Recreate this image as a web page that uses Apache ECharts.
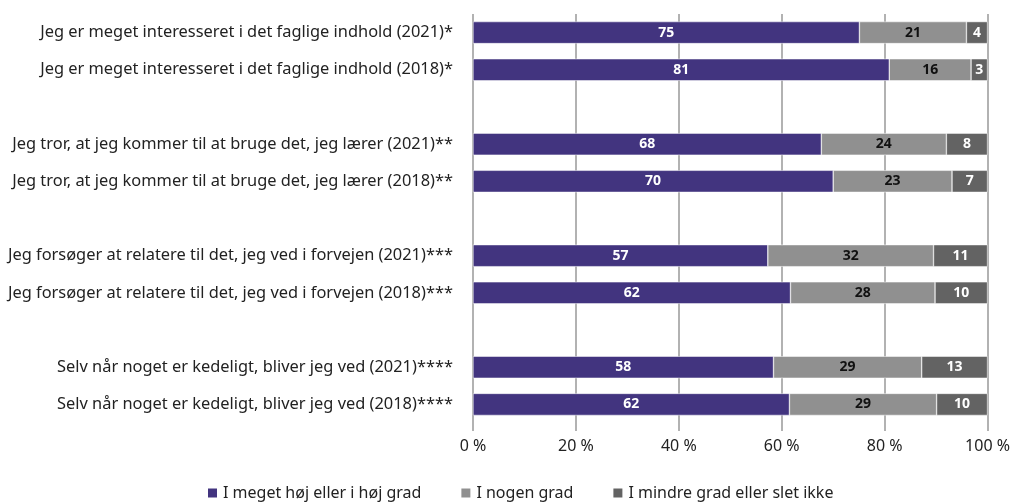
<!DOCTYPE html>
<html>
<head>
<meta charset="utf-8">
<script src="https://cdn.jsdelivr.net/npm/echarts@6/dist/echarts.min.js"></script>
<style>
  html, body { margin: 0; padding: 0; background: #fff; }
  #chart { width: 1013px; height: 503px; }
</style>
</head>
<body>
<div id="chart"></div>
<script>
// kategorier (tomme strenge giver luft mellem grupperne)
const categories = [
  "Jeg er meget interesseret i det faglige indhold (2021)*",
  "Jeg er meget interesseret i det faglige indhold (2018)*",
  "",
  "Jeg tror, at jeg kommer til at bruge det, jeg lærer (2021)**",
  "Jeg tror, at jeg kommer til at bruge det, jeg lærer (2018)**",
  "",
  "Jeg forsøger at relatere til det, jeg ved i forvejen (2021)***",
  "Jeg forsøger at relatere til det, jeg ved i forvejen (2018)***",
  "",
  "Selv når noget er kedeligt, bliver jeg ved (2021)****",
  "Selv når noget er kedeligt, bliver jeg ved (2018)****"
];
const seriesNames = ["I meget høj eller i høj grad", "I nogen grad", "I mindre grad eller slet ikke"];
// procenter aflæst fra bjælkerne (etiketter vises afrundet)
const highValues = [75.1, 80.9, null, 67.7, 70.0, null, 57.3, 61.7, null, 58.4, 61.5];
const someValues = [20.8, 15.9, null, 24.3, 23.1, null, 32.2, 28.1, null, 28.8, 28.6];
const lowValues = [4.1, 3.2, null, 8.0, 6.9, null, 10.5, 10.2, null, 12.8, 9.9];
const tickValues = [0, 20, 40, 60, 80, 100];

const colors = ["#42347f", "#909090", "#636363"];
const labelColors = ["#fff", "#111", "#fff"];
const font = "'Source Sans Pro', 'Noto Sans', sans-serif";

const chart = echarts.init(document.getElementById("chart"));

function makeSeries(name, data, i) {
  return {
    name: name,
    type: "bar",
    stack: "total",
    barWidth: 22,
    data: data,
    itemStyle: { color: colors[i], borderColor: "#fff", borderWidth: 0.5 },
    label: {
      show: true,
      position: "inside",
      color: labelColors[i],
      fontWeight: "bold",
      fontSize: 14,
      fontFamily: font,
      formatter: function (p) { return Math.round(p.value); }
    }
  };
}

chart.setOption({
  animation: false,
  color: colors,
  grid: { left: 473, right: 25, top: 14, bottom: 80, containLabel: false },
  legend: {
    top: 480,
    left: 201,
    itemWidth: 11,
    itemHeight: 11,
    itemGap: 38,
    icon: "rect",
    textStyle: { fontSize: 16, color: "#222", fontFamily: font },
    data: seriesNames
  },
  xAxis: {
    type: "value",
    min: 0,
    max: 100,
    interval: 20,
    axisLine: { show: false },
    axisTick: { show: true, length: 8, lineStyle: { color: "#999", width: 1.5 } },
    splitLine: { show: true, lineStyle: { color: "#999", width: 1.5 } },
    axisLabel: {
      margin: 15,
      fontSize: 16,
      color: "#222",
      fontFamily: font,
      formatter: function (v) { return tickValues.indexOf(v) >= 0 ? v + " %" : ""; }
    }
  },
  yAxis: {
    type: "category",
    inverse: true,
    data: categories,
    axisLine: { show: false },
    axisTick: { show: false },
    axisLabel: { margin: 20, fontSize: 16.4, color: "#222", fontFamily: font }
  },
  series: [
    makeSeries(seriesNames[0], highValues, 0),
    makeSeries(seriesNames[1], someValues, 1),
    makeSeries(seriesNames[2], lowValues, 2)
  ]
});
</script>
</body>
</html>
